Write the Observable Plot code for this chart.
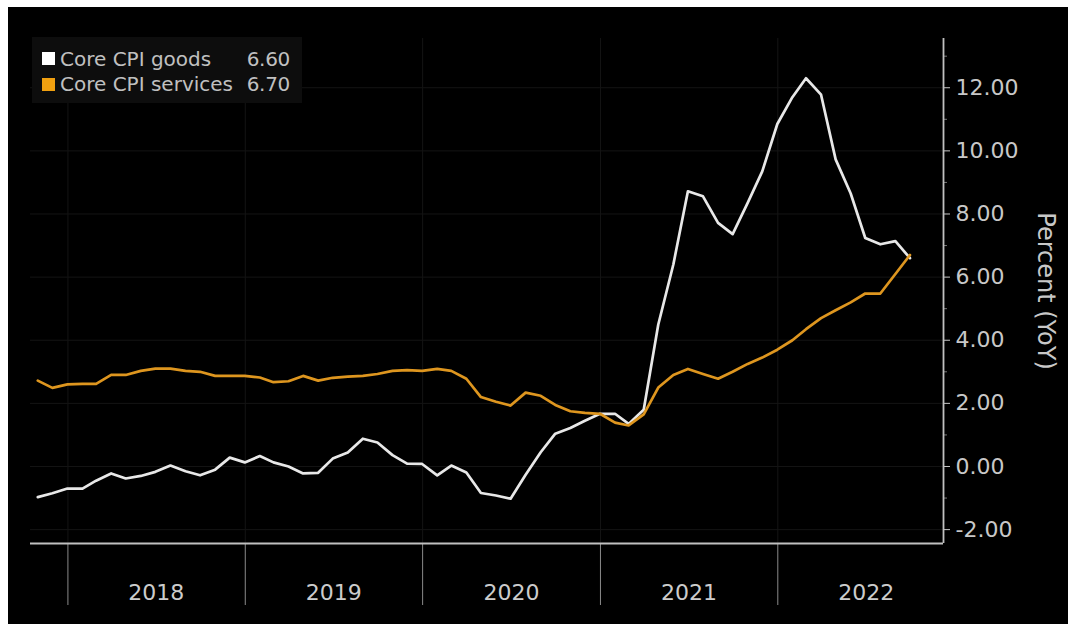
<!DOCTYPE html>
<html><head><meta charset="utf-8">
<script src="https://cdn.jsdelivr.net/npm/d3@7"></script>
<script src="https://cdn.jsdelivr.net/npm/@observablehq/plot@0.6"></script>
<style>
html,body{margin:0;padding:0;background:#fff;}
#wrap{position:absolute;left:8px;top:7px;width:1060px;height:617px;background:#000;overflow:hidden;}
#legend{position:absolute;left:24px;top:30px;width:270px;height:66px;background:#0d0d0d;font-family:"DejaVu Sans",sans-serif;font-size:20px;color:#c0c0c0;}
.row{position:absolute;left:10px;right:12px;height:22px;line-height:22px;display:flex;align-items:center;}
.sw{width:13px;height:13px;margin-right:5px;flex:none;}
.nm{flex:1;white-space:nowrap;letter-spacing:0px;}
.val{white-space:nowrap;letter-spacing:-0.3px;}
</style>
</head><body>
<div id="wrap"><div id="chart"></div><div id="legend"></div></div>
<script>
const seriesNames = ["Core CPI goods", "Core CPI services"];
const seriesColors = ["#e8e8e8", "#de961f"];
const swatchColors = ["#ffffff", "#f0a010"];
const lastValues = ["6.60", "6.70"];
// monthly, Oct 2017 .. Sep 2022
const goods = [
  -0.97, -0.85, -0.70,
  -0.70, -0.45, -0.22, -0.38, -0.30, -0.17, 0.03, -0.15, -0.28, -0.10, 0.28, 0.13,
  0.33, 0.13, 0.00, -0.22, -0.20, 0.25, 0.44, 0.88, 0.76, 0.36, 0.09, 0.08,
  -0.28, 0.03, -0.19, -0.84, -0.92, -1.02, -0.26, 0.45, 1.04, 1.22, 1.45, 1.67,
  1.67, 1.35, 1.80, 4.50, 6.40, 8.72, 8.56, 7.72, 7.36, 8.35, 9.35, 10.85,
  11.70, 12.30, 11.78, 9.73, 8.65, 7.24, 7.04, 7.14, 6.60
];
const services = [
  2.72, 2.49, 2.60,
  2.62, 2.62, 2.90, 2.90, 3.03, 3.10, 3.10, 3.03, 3.00, 2.87, 2.87, 2.87,
  2.82, 2.67, 2.70, 2.87, 2.72, 2.81, 2.85, 2.87, 2.93, 3.03, 3.05, 3.03,
  3.09, 3.03, 2.78, 2.20, 2.05, 1.93, 2.34, 2.24, 1.95, 1.75, 1.70, 1.67,
  1.39, 1.30, 1.65, 2.50, 2.90, 3.09, 2.93, 2.78, 3.00, 3.25, 3.45, 3.70,
  4.00, 4.35, 4.70, 4.95, 5.20, 5.48, 5.48, 6.10, 6.70
];
const yTicks = [-2, 0, 2, 4, 6, 8, 10, 12];
const yMinorTicks = [-1, 1, 3, 5, 7, 9, 11, 13];
const yearLabels = [2018, 2019, 2020, 2021, 2022];
const xDomain = [new Date("2017-10-16"), new Date("2022-12-08")];
const yDomain = [-2.44, 13.56];
const axisTitle = "Percent (YoY)";

const months = d3.utcMonth.range(new Date(Date.UTC(2017, 9, 1)), new Date(Date.UTC(2022, 9, 1)));
const dates = months.map(m => d3.utcDay.offset(d3.utcMonth.offset(m, 1), -1));
const rows = [];
goods.forEach((v, i) => rows.push({date: dates[i], value: v, series: seriesNames[0]}));
services.forEach((v, i) => rows.push({date: dates[i], value: v, series: seriesNames[1]}));
const yearStarts = yearLabels.map(y => new Date(Date.UTC(y, 0, 1)));
const yearMids = yearLabels.map(y => new Date(Date.UTC(y, 6, 2)));
const fmt = d3.format(".2f");

const plot = Plot.plot({
  width: 1060, height: 617,
  marginLeft: 22, marginRight: 125, marginTop: 31, marginBottom: 81,
  style: {background: "black", fontFamily: "DejaVu Sans, sans-serif", fontSize: "22px", color: "#c8c8c8"},
  x: {type: "utc", domain: xDomain},
  y: {domain: yDomain},
  color: {domain: seriesNames, range: seriesColors},
  marks: [
    Plot.ruleY(yTicks, {stroke: "#141414"}),
    Plot.ruleX(yearStarts, {stroke: "#141414"}),
    Plot.axisX({ticks: yearStarts, tickSize: 62, tickFormat: () => "", stroke: "#8a8a8a", label: null}),
    Plot.axisX({ticks: yearMids, tickSize: 0, tickPadding: 41, tickFormat: d => String(d.getUTCFullYear()), fill: "#cccccc", label: null}),
    Plot.axisY({anchor: "right", ticks: yTicks, tickSize: 6, tickPadding: 6, tickFormat: d => fmt(d).replace("\u2212", "-"), label: null, color: "#c8c8c8"}),
    Plot.axisY({anchor: "right", ticks: yMinorTicks, tickSize: 3, tickFormat: () => "", label: null, stroke: "#777"}),
    Plot.ruleY([yDomain[0]], {stroke: "#c0c0c0", strokeWidth: 1.8}),
    Plot.ruleX([xDomain[1]], {stroke: "#c0c0c0", strokeWidth: 1.8}),
    Plot.line(rows, {x: "date", y: "value", z: "series", stroke: "series", strokeWidth: 2.7}),
    Plot.text([axisTitle], {frameAnchor: "right", dx: 102, rotate: 90, textAnchor: "middle", fontSize: 24, fill: "#c8c8c8"})
  ]
});
document.getElementById("chart").appendChild(plot);

const legend = d3.select("#legend");
seriesNames.forEach((n, i) => {
  const r = legend.append("div").attr("class", "row").style("top", (i === 0 ? 10.5 : 36) + "px");
  r.append("div").attr("class", "sw").style("background", swatchColors[i]);
  r.append("div").attr("class", "nm").text(n);
  r.append("div").attr("class", "val").text(lastValues[i]);
});
</script>
</body></html>
